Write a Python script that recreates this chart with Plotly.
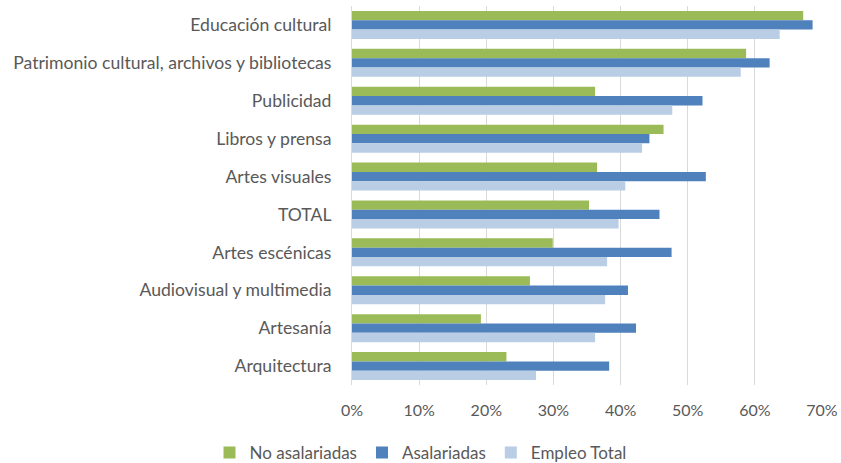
import plotly.graph_objects as go

categories = ["Educación cultural", "Patrimonio cultural, archivos y bibliotecas", "Publicidad",
              "Libros y prensa", "Artes visuales", "TOTAL", "Artes escénicas",
              "Audiovisual y multimedia", "Artesanía", "Arquitectura"]
no_asalariadas = [0.672, 0.587, 0.362, 0.464, 0.365, 0.353, 0.299, 0.265, 0.192, 0.230]
asalariadas = [0.686, 0.622, 0.522, 0.443, 0.527, 0.458, 0.476, 0.411, 0.423, 0.383]
empleo_total = [0.637, 0.579, 0.477, 0.432, 0.407, 0.397, 0.380, 0.377, 0.362, 0.274]

FONT = "Lato"
GREY = "#595959"

fig = go.Figure()
for name, vals, col in [("No asalariadas", no_asalariadas, "#9bbb59"),
                        ("Asalariadas", asalariadas, "#4f81bd"),
                        ("Empleo Total", empleo_total, "#b9cde5")]:
    fig.add_trace(go.Bar(y=categories, x=vals, name=name, orientation="h",
                         marker=dict(color=col, line=dict(width=0))))

fig.update_layout(
    width=841, height=463,
    margin=dict(l=352, r=19, t=6, b=78, autoexpand=False),
    barmode="group", bargap=0.26, bargroupgap=0,
    plot_bgcolor="white", paper_bgcolor="white",
    font=dict(family=FONT, size=17, color=GREY),
    xaxis=dict(range=[0, 0.7], tickformat=".0%", dtick=0.1, showgrid=True,
               gridcolor="#d9d9d9", gridwidth=1, zeroline=False, automargin=False,
               ticks="", ticklabelstandoff=14, ticklabeloverflow="allow",
               tickfont=dict(size=16, color=GREY)),
    yaxis=dict(autorange="reversed", showline=True, linecolor="#d9d9d9", automargin=False,
               ticks="", ticklabelstandoff=16, tickfont=dict(size=17.6, color=GREY)),
    legend=dict(orientation="h", xref="container", yref="container",
                x=0.5, xanchor="center", y=0.0216, yanchor="middle",
                font=dict(size=17, color=GREY), itemwidth=30),
    showlegend=True,
)
# remove the default page margin so the figure fills the window exactly
fig.write_html("out.html", config={"displayModeBar": False},
               post_script="document.body.style.margin='0';document.body.style.overflow='hidden';")
